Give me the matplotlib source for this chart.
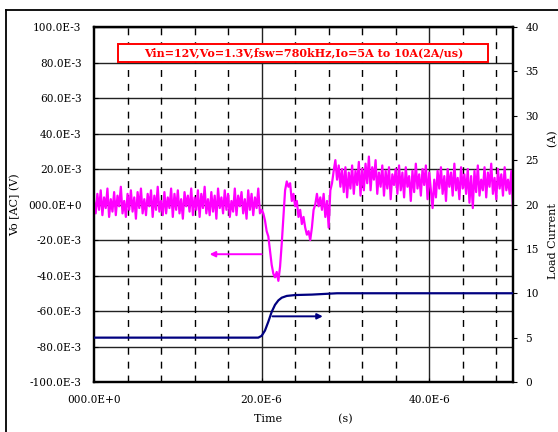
import matplotlib
matplotlib.use("Agg")
import matplotlib.pyplot as plt
import numpy as np
from matplotlib.patches import Rectangle
from matplotlib.lines import Line2D

# output ripple (mV), sampled every 0.2 us from 0 to 50 us
vo_before = [2, -5, 6, -3, 8, -6, 4, -2, 9, -7,
             3, -4, 7, -6, 5, -1, 10, -5, 2, -7,
             6, -3, 8, -4, 4, -8, 7, -2, 9, -5,
             3, -6, 6, -1, 8, -7, 5, -3, 10, -4,
             2, -6, 7, -5, 4, -2, 9, -7, 6, -3,
             8, -5, 3, -8, 7, -1, 5, -4, 9, -6,
             4, -3, 8, -7, 6, -2, 10, -5, 3, -6,
             7, -4, 5, -8, 9, -2, 4, -5, 8, -3,
             6, -7, 2, -4, 9, -6, 5, -1, 7, -5,
             3, -8, 8, -3, 6, -6, 4, -2, 9, -5, -3]
vo_step = [-5, -9, -15, -18, -26, -34, -39, -41, -38, -43,
           -35, -22, -7, 8, 13, 10, 12, 2, 6, -1,
           2, -7, -3, -11, -7, -13, -17, -15, -20, -13,
           -3, 0, 6, -1, 4, -3, 6, -7, 2, -13, 8, 12]
vo_after = [19, 25, 14, 22, 10, 20, 7, 21, 4, 18,
            9, 22, 6, 19, 11, 24, 5, 20, 8, 23,
            12, 27, 8, 21, 14, 25, 6, 18, 10, 22,
            5, 19, 9, 21, 3, 17, 11, 20, 6, 22,
            8, 18, 4, 21, 10, 16, 2, 19, 7, 23,
            9, 17, 5, 20, 11, 22, 3, 18, 8, -2,
            14, 4, 19, 9, 21, 6, 16, 2, 20, 10,
            18, 5, 23, 8, 15, 3, 21, 9, 17, 6,
            20, 1, 16, -2, 19, 7, 22, 5, 14, 8,
            21, 4, 18, 10, 23, 6, 15, 3, 20, 9,
            17, 5, 21, 8, 14, 6, 19, -3]
vo_mv = vo_before + vo_step + vo_after
t_vo = np.arange(len(vo_mv)) * 0.2  # us

# load current (A)
t_io = [0, 19.6, 20.0, 20.4, 20.8, 21.2, 21.6, 22.0, 22.4, 23.0, 24.0, 26.0, 29.0, 50]
io = [5.0, 5.0, 5.2, 5.8, 6.8, 7.9, 8.7, 9.2, 9.5, 9.7, 9.8, 9.85, 10.0, 10.0]

y_ticks = [100, 80, 60, 40, 20, 0, -20, -40, -60, -80, -100]
y_labels = ["100.0E-3", "80.0E-3", "60.0E-3", "40.0E-3", "20.0E-3", "000.0E+0",
            "-20.0E-3", "-40.0E-3", "-60.0E-3", "-80.0E-3", "-100.0E-3"]
x_ticks = [0, 20, 40]
x_labels = ["000.0E+0", "20.0E-6", "40.0E-6"]
x_dashed = [4, 8, 12, 16, 24, 28, 32, 36, 44, 48]
io_ticks = [0, 5, 10, 15, 20, 25, 30, 35, 40]
title = "Vin=12V,Vo=1.3V,fsw=780kHz,Io=5A to 10A(2A/us)"

plt.rcParams["font.family"] = "DejaVu Serif"

fig = plt.figure(figsize=(5.58, 4.32), dpi=100)
ax = fig.add_axes([0.1685, 0.1157, 0.7509, 0.8218])

# outer frame: only its top and left edges fall inside the picture
fig.lines.append(Line2D([6 / 558, 1.05], [1 - 10 / 432] * 2, transform=fig.transFigure,
                        color="black", linewidth=1.3))
fig.lines.append(Line2D([6 / 558] * 2, [-0.05, 1 - 10 / 432], transform=fig.transFigure,
                        color="black", linewidth=1.3))

for y in y_ticks:
    ax.axhline(y, color="#222222", linewidth=1.0, zorder=1)
for x in x_ticks[1:]:
    ax.axvline(x, color="#222222", linewidth=1.0, zorder=1)
for x in x_dashed:
    ax.axvline(x, color="black", linewidth=1.0, linestyle=(0, (5, 5)), zorder=1)

ax.plot(t_vo, vo_mv, color="#ff00ff", linewidth=1.6, zorder=3)
ax.set_xlim(0, 50)
ax.set_ylim(-100, 100)
ax.set_yticks(y_ticks)
ax.set_yticklabels(y_labels, fontsize=7.6)
ax.set_xticks(x_ticks)
ax.set_xticklabels(x_labels, fontsize=7.6)
ax.tick_params(axis="both", direction="in", length=3, pad=9)
ax.set_ylabel("Vo [AC] (V)", fontsize=8)
ax.yaxis.set_label_coords(-0.1766, 0.5)
ax.set_xlabel("Time                (s)", fontsize=8, labelpad=7)
for s in ax.spines.values():
    s.set_linewidth(1.6)

ax.annotate("", xy=(13.8, -28), xytext=(20, -28),
            arrowprops=dict(arrowstyle="-|>", color="#ff00ff", lw=1.4,
                            mutation_scale=8, shrinkA=0, shrinkB=0), zorder=4)

ax2 = ax.twinx()
ax2.plot(t_io, io, color="#000080", linewidth=1.6, zorder=3)
ax2.set_ylim(0, 40)
ax2.set_yticks(io_ticks)
ax2.set_yticklabels([str(v) for v in io_ticks], fontsize=7.6)
ax2.tick_params(axis="y", direction="out", length=3, pad=6)
ax2.set_ylabel("Load Current                (A)", fontsize=8)
ax2.yaxis.set_label_coords(1.0835, 0.5)
ax2.annotate("", xy=(27.3, 7.4), xytext=(21.3, 7.4),
             arrowprops=dict(arrowstyle="-|>", color="#000080", lw=1.4,
                             mutation_scale=8, shrinkA=0, shrinkB=0))
for s in ax2.spines.values():
    s.set_linewidth(1.6)

# title box
ax.add_patch(Rectangle((0.0573, 0.901), 0.883, 0.051, transform=ax.transAxes,
                       fill=True, facecolor="white", edgecolor="red", linewidth=1.4, zorder=5))
ax.text(0.5, 0.9265, title, transform=ax.transAxes, ha="center", va="center",
        color="red", fontsize=8, fontweight="bold", zorder=6)

fig.savefig("out.png", dpi=100)
